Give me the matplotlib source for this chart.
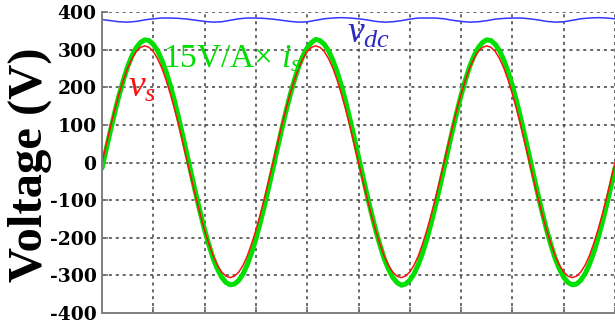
import matplotlib
matplotlib.use("Agg")
import matplotlib.pyplot as plt
import numpy as np

plt.rcParams["mathtext.fontset"] = "custom"
plt.rcParams["mathtext.it"] = "Liberation Serif:italic"
plt.rcParams["mathtext.rm"] = "Liberation Serif"

# time axis in ms, 3 line cycles; sine traces every 0.5 ms, dc link every 1 ms
t_ac = np.arange(0, 60.01, 0.5)
t_dc = np.arange(0, 61, 1)

v_s = [0, 48, 96, 141, 182, 219, 251, 276, 295, 306, 310, 306, 295, 276, 251, 219, 182, 141, 96, 48,
       0, -48, -95, -139, -180, -216, -248, -273, -291, -302, -306, -302, -291, -273, -248, -216, -180, -139, -95, -48,
       0, 48, 96, 141, 182, 219, 251, 276, 295, 306, 310, 306, 295, 276, 251, 219, 182, 141, 96, 48,
       0, -48, -95, -139, -180, -216, -248, -273, -291, -302, -306, -302, -291, -273, -248, -216, -180, -139, -95, -48,
       0, 48, 96, 141, 182, 219, 251, 276, 295, 306, 310, 306, 295, 276, 251, 219, 182, 141, 96, 48,
       0, -48, -95, -139, -180, -216, -248, -273, -291, -302, -306, -302, -291, -273, -248, -216, -180, -139, -95, -48,
       0]

i_s_scaled = [-15, 36, 86, 134, 179, 219, 255, 283, 305, 319, 326, 324, 314, 297, 272, 241, 204, 162, 115, 66,
              15, -36, -86, -134, -179, -219, -255, -283, -305, -319, -325, -323, -313, -296, -271, -240, -203, -161, -115, -66,
              -15, 36, 86, 134, 179, 219, 255, 283, 305, 319, 327, 324, 314, 297, 272, 241, 204, 162, 115, 66,
              15, -36, -86, -134, -179, -219, -255, -283, -305, -319, -326, -323, -313, -296, -271, -240, -203, -161, -115, -66,
              -15, 36, 86, 134, 179, 219, 255, 283, 305, 319, 326, 324, 314, 297, 272, 241, 204, 162, 115, 66,
              15, -36, -86, -134, -179, -219, -255, -283, -305, -319, -325, -323, -313, -296, -271, -240, -203, -161, -115, -66,
              -15]

v_dc = [380, 377, 374, 373, 375, 379, 382, 384, 384, 383,
        381, 378, 375, 373, 374, 378, 382, 384, 384, 383,
        381, 378, 375, 373, 374, 378, 382, 384, 385, 384,
        382, 379, 375, 373, 374, 377, 381, 384, 384, 384,
        382, 378, 375, 373, 374, 377, 381, 383, 384, 384,
        382, 379, 375, 373, 374, 378, 382, 384, 385, 384,
        382]

y_ticks = [-400, -300, -200, -100, 0, 100, 200, 300, 400]
x_grid = np.arange(0, 61, 6)

fig = plt.figure(figsize=(6.15, 3.23), dpi=100)
ax = fig.add_axes([102 / 615, 10 / 323, 513 / 615, 301 / 323])

ax.plot(t_ac, i_s_scaled, color="#00E000", linewidth=3.6, solid_capstyle="round")
ax.plot(t_ac, v_s, color="#FF1010", linewidth=1.1)
ax.plot(t_dc, v_dc, color="#3535FF", linewidth=1.1)

ax.set_xlim(0, 60)
ax.set_ylim(-400, 400)
ax.set_xticks(x_grid)
ax.set_xticklabels([])
ax.set_yticks(y_ticks)
ax.set_yticklabels([str(v) for v in y_ticks], family="DejaVu Serif",
                   fontweight="bold", fontsize=13.5)
ax.tick_params(direction="in", length=4, width=1.2, color="#707070", pad=4)

ax.grid(True, color="#404040", linestyle=(0, (2, 2.5)), linewidth=1.1)
ax.set_axisbelow(True)
for side in ["top", "right"]:
    ax.spines[side].set_visible(False)
for side in ["left", "bottom"]:
    ax.spines[side].set_color("#808080")
    ax.spines[side].set_linewidth(1.4)

fig.text(30 / 615, (323 - 165) / 323, "Voltage (V)", rotation=90,
         ha="center", va="center", family="Liberation Serif",
         fontweight="bold", fontsize=35)

ax.text(3.0, 174, "$v_s$", color="#FF1010", fontsize=27, ha="left", va="baseline")
ax.text(7.1, 254, "15V/A\u00d7 $i_s$", color="#00DD00", fontsize=24,
        family="Liberation Serif", ha="left", va="baseline")
ax.text(28.7, 320, "$v_{dc}$", color="#2B2BC0", fontsize=27, ha="left", va="baseline")

fig.savefig("out.png", dpi=100)
